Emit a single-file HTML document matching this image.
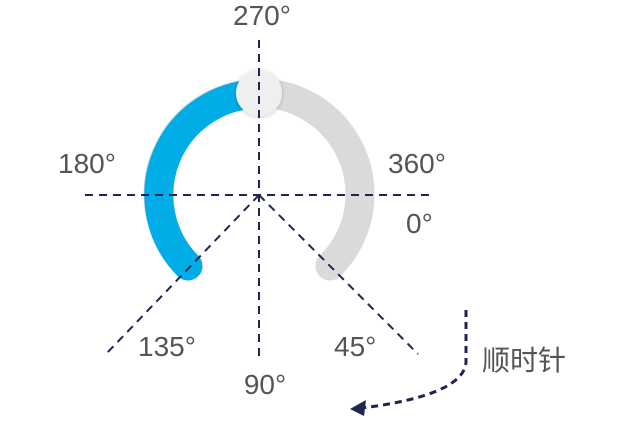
<!DOCTYPE html>
<html><head><meta charset="utf-8"><style>
body{margin:0;background:#fff;}
svg{display:block;}
text{font-family:"Liberation Sans","Noto Sans CJK SC",sans-serif;fill:#555;font-size:28px;}
</style></head><body>
<svg width="631" height="432">
<defs><filter id="sh" x="-50%" y="-50%" width="200%" height="200%"><feDropShadow dx="0" dy="1" stdDeviation="2" flood-color="#000" flood-opacity="0.2"/></filter></defs>
<path d="M188 266 A101 101 0 1 1 330 266" stroke="#dadada" stroke-width="29" fill="none" stroke-linecap="round"/>
<path d="M188 266 A101 101 0 0 1 259 94" stroke="#00ade6" stroke-width="29" fill="none" stroke-linecap="round"/>
<circle cx="259" cy="93" r="23" fill="#efefef" filter="url(#sh)"/>
<g stroke="#1e2550" stroke-width="2" stroke-dasharray="8,6" fill="none">
<line x1="85" y1="195" x2="432" y2="195"/>
<line x1="259" y1="40" x2="259" y2="362"/>
<line x1="259" y1="195" x2="106" y2="354"/>
<line x1="259" y1="195" x2="418" y2="354"/>
</g>
<text x="262" y="25" text-anchor="middle">270°</text>
<text x="58" y="173">180°</text>
<text x="388" y="173">360°</text>
<text x="406" y="233">0°</text>
<text x="138" y="356">135°</text>
<text x="334" y="356">45°</text>
<text x="265" y="394" text-anchor="middle">90°</text>
<text x="482" y="370">顺时针</text>
<path d="M466 310 L466 362 Q464 395 362 408" stroke="#1e2550" stroke-width="3" stroke-dasharray="7,5" fill="none"/>
<polygon points="350,409 366,400 364,416" fill="#1e2550"/>
</svg>
</body></html>
